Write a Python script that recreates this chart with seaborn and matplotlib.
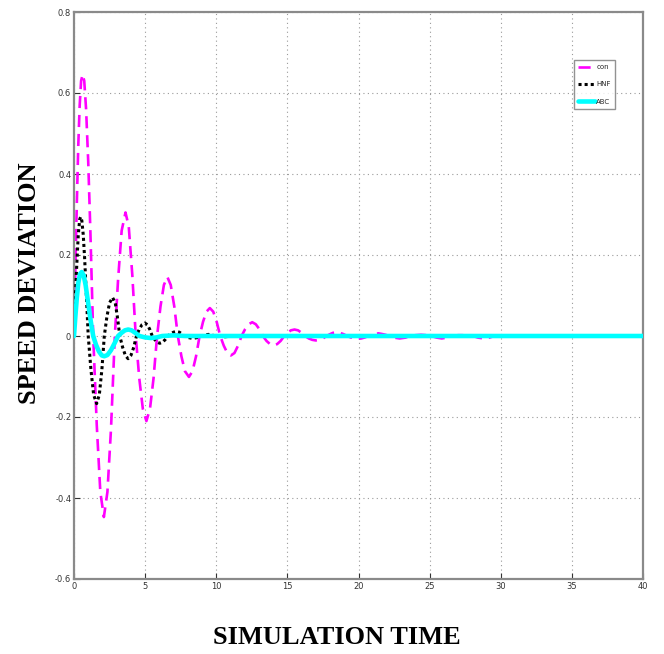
import matplotlib
matplotlib.use("Agg")
import matplotlib.pyplot as plt
import seaborn as sns
import pandas as pd

# ---- data ----
con_t = [0, 0.1, 0.2, 0.3, 0.4, 0.5, 0.61, 0.72, 0.85, 1.0, 1.15, 1.35,
         1.6, 1.85, 2.1, 2.35, 2.6, 2.87,
         3.1, 3.35, 3.62, 3.85, 4.1, 4.34,
         4.59, 4.84, 5.09, 5.34, 5.59, 5.84,
         6.08, 6.32, 6.56, 6.8, 7.05, 7.3,
         7.55, 7.8, 8.08, 8.33, 8.58, 8.83,
         9.07, 9.31, 9.55, 9.79, 10.03, 10.28,
         10.53, 10.78, 11.03, 11.28, 11.53, 11.78,
         12.03, 12.28, 12.53, 12.78, 13.03, 13.28,
         13.53, 13.78, 14.03, 14.28, 14.53, 14.78,
         15.0, 15.25, 15.5, 15.75, 16.0, 16.25,
         16.5, 16.75, 17.0, 17.25, 17.5, 17.75,
         18.0, 18.2, 18.45, 18.7, 18.95, 19.2,
         19.45, 19.7, 19.95, 20.2, 20.45, 20.7,
         20.95, 21.15, 21.4, 21.65, 21.9, 22.15,
         22.5, 22.9, 23.3, 23.65, 24.0, 24.4, 24.8, 25.1,
         25.5, 25.85, 26.2, 26.6, 27.0, 27.3, 27.7, 28.05,
         28.4, 28.8, 29.2, 29.55, 30.3, 31.0, 40.0]
con_v = [0, 0.17, 0.33, 0.47, 0.57, 0.63, 0.646, 0.63, 0.56, 0.43, 0.26, 0,
         -0.22, -0.385, -0.447, -0.385, -0.23, 0,
         0.14, 0.26, 0.305, 0.27, 0.15, 0,
         -0.105, -0.18, -0.21, -0.18, -0.105, 0,
         0.073, 0.126, 0.146, 0.126, 0.073, 0,
         -0.05, -0.087, -0.101, -0.087, -0.05, 0,
         0.035, 0.06, 0.069, 0.06, 0.035, 0,
         -0.024, -0.042, -0.048, -0.042, -0.024, 0,
         0.017, 0.029, 0.034, 0.029, 0.017, 0,
         -0.012, -0.02, -0.023, -0.02, -0.012, 0,
         0.008, 0.014, 0.016, 0.014, 0.008, 0,
         -0.006, -0.0095, -0.011, -0.0095, -0.006, 0,
         0.0045, 0.0078, 0.009, 0.0078, 0.0045, 0,
         -0.0035, -0.006, -0.007, -0.006, -0.0035, 0,
         0.003, 0.005, 0.0065, 0.005, 0.003, 0,
         -0.004, -0.006, -0.004, 0, 0.002, 0.003, 0.002, 0,
         -0.004, -0.006, -0.004, 0, 0.002, 0.002, 0.001, 0,
         -0.004, -0.006, -0.004, 0, 0.001, 0, 0]

hnf_t = [0, 0.1, 0.2, 0.3, 0.4, 0.47, 0.55, 0.65, 0.75, 0.85, 1.0,
         1.19, 1.38, 1.59, 1.78, 1.96, 2.13,
         2.31, 2.5, 2.71, 2.9, 3.05, 3.22,
         3.42, 3.61, 3.8, 4.0, 4.2, 4.39,
         4.58, 4.78, 4.98, 5.16, 5.33, 5.5,
         5.68, 5.86, 6.03, 6.22, 6.41, 6.6,
         6.8, 7.0, 7.2, 7.4, 7.58, 7.75,
         8.05, 8.35, 8.65, 8.9, 9.45, 10.0, 10.6, 11.15, 11.7, 12.3, 40.0]
hnf_v = [0, 0.1, 0.18, 0.25, 0.288, 0.294, 0.285, 0.25, 0.19, 0.115, 0,
         -0.083, -0.145, -0.167, -0.145, -0.083, 0,
         0.047, 0.082, 0.095, 0.082, 0.047, 0,
         -0.028, -0.048, -0.056, -0.048, -0.028, 0,
         0.016, 0.028, 0.032, 0.028, 0.016, 0,
         -0.009, -0.0155, -0.018, -0.0155, -0.009, 0,
         0.0055, 0.0095, 0.011, 0.0095, 0.0055, 0,
         -0.004, -0.006, -0.004, 0, 0.004, 0, -0.002, 0, 0.001, 0, 0]

abc_t = [0, 0.1, 0.2, 0.3, 0.42, 0.54, 0.68, 0.82, 0.96, 1.1, 1.22, 1.35,
         1.55, 1.75, 1.95, 2.13, 2.35, 2.6, 2.85, 3.1,
         3.35, 3.58, 3.81, 4.05, 4.3, 4.6,
         5.0, 5.4, 5.8, 6.2, 7.0, 7.8, 40.0]
abc_v = [0, 0.05, 0.095, 0.13, 0.153, 0.158, 0.15, 0.125, 0.09, 0.055, 0.027, 0,
         -0.022, -0.038, -0.048, -0.05, -0.047, -0.035, -0.018, 0,
         0.008, 0.014, 0.016, 0.014, 0.008, 0,
         -0.0035, -0.005, -0.0035, 0, 0.0015, 0, 0]

x_ticks = [0, 5, 10, 15, 20, 25, 30, 35, 40]
y_ticks = [-0.6, -0.4, -0.2, 0, 0.2, 0.4, 0.6, 0.8]
y_tick_labels = ["-0.6", "-0.4", "-0.2", "0", "0.2", "0.4", "0.6", "0.8"]
series_names = ["con", "HNF", "ABC"]

# ---- figure ----
sns.set_style("white")
plt.rcParams["font.family"] = ["DejaVu Sans"]

fig = plt.figure(figsize=(6.64, 6.54), dpi=100)
ax = fig.add_axes([74 / 664, (654 - 579) / 654, 569 / 664, 567 / 654])

df_con = pd.DataFrame({"t": con_t, "v": con_v})
df_hnf = pd.DataFrame({"t": hnf_t, "v": hnf_v})
df_abc = pd.DataFrame({"t": abc_t, "v": abc_v})

sns.lineplot(data=df_con, x="t", y="v", ax=ax, color="#ff00ff", lw=1.9,
             label=series_names[0], zorder=2, sort=False)
sns.lineplot(data=df_hnf, x="t", y="v", ax=ax, color="black", lw=2.2,
             label=series_names[1], zorder=3, sort=False)
sns.lineplot(data=df_abc, x="t", y="v", ax=ax, color="#00ffff", lw=3.3,
             label=series_names[2], zorder=4, sort=False)

lines = ax.get_lines()
lines[0].set_dashes([4.6, 2.6])
lines[1].set_dashes([1.0, 1.0])
lines[1].set_dash_capstyle("butt")

ax.set_xlim(0, 40)
ax.set_ylim(-0.6, 0.8)
ax.set_xticks(x_ticks)
ax.set_xticklabels([str(v) for v in x_ticks])
ax.set_yticks(y_ticks)
ax.set_yticklabels(y_tick_labels)
ax.grid(True, linestyle=(0, (1, 3)), color="#9a9a9a", lw=0.8)
ax.tick_params(axis="both", direction="in", length=4, width=0.8,
               labelsize=6, colors="#333333", pad=2, top=False, right=False,
               left=True, bottom=True)
for sp in ax.spines.values():
    sp.set_visible(True)
    sp.set_color("#8a8a8a")
    sp.set_linewidth(1.6)

ax.set_xlabel("")
ax.set_ylabel("")
fig.text(0.507, 0.0245, "SIMULATION TIME", ha="center", va="center",
         fontsize=19, fontweight="bold", color="black",
         family=["Liberation Serif", "DejaVu Serif"])
fig.text(0.045, 0.567, "SPEED DEVIATION", ha="center", va="center",
         rotation=90, fontsize=19, fontweight="bold", color="black",
         family=["Liberation Serif", "DejaVu Serif"])

handles, labels = ax.get_legend_handles_labels()
order = [labels.index(n) for n in series_names]
leg = ax.legend([handles[i] for i in order], [labels[i] for i in order],
                loc="upper left", bbox_to_anchor=(0.879, 0.915),
                fontsize=5, handlelength=2.4, frameon=True, fancybox=False,
                borderpad=0.6, labelspacing=1.6, handletextpad=0.2,
                borderaxespad=0)
leg.get_frame().set_edgecolor("#777777")
leg.get_frame().set_linewidth(1.0)

fig.savefig("out.png", dpi=100)
